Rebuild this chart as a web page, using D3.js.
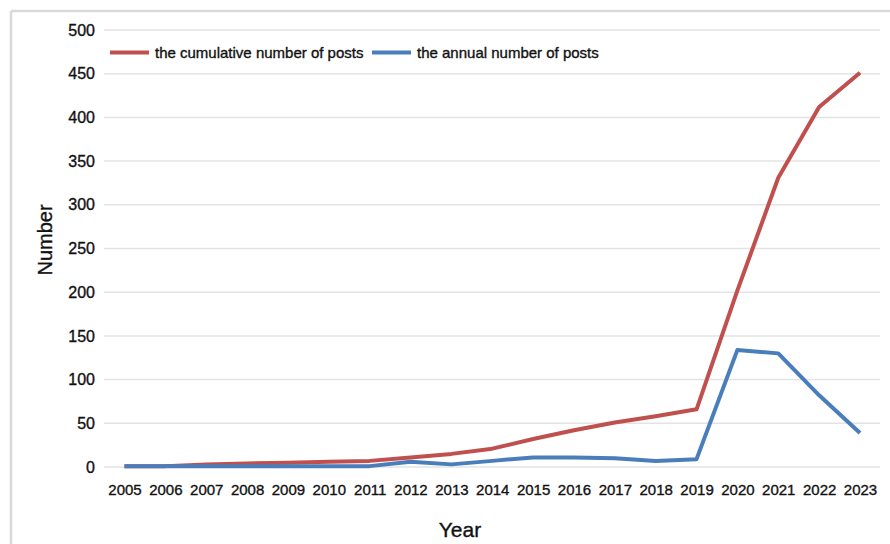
<!DOCTYPE html>
<html>
<head>
<meta charset="utf-8">
<script src="https://cdn.jsdelivr.net/npm/d3@7"></script>
<style>
  body { margin: 0; background: #fff; }
  svg { display: block; font-family: "Liberation Sans", Arial, sans-serif; }
  .lbl { stroke: #111; stroke-width: 0.35px; paint-order: stroke; }
</style>
</head>
<body>
<svg id="chart" width="890" height="544"></svg>
<script>
var years = ["2005", "2006", "2007", "2008", "2009", "2010", "2011", "2012", "2013", "2014",
             "2015", "2016", "2017", "2018", "2019", "2020", "2021", "2022", "2023"];
var cumulativePosts = [1, 1, 3, 4, 5, 6, 7, 11, 15, 21, 32, 42, 51, 58, 66, 202, 331, 412, 451];
var annualPosts = [1, 1, 1, 1, 1, 1, 1, 6, 3, 7, 11, 11, 10, 7, 9, 134, 130, 82, 39];
var yTicks = [0, 50, 100, 150, 200, 250, 300, 350, 400, 450, 500];

var redColor = "#c0504d";
var blueColor = "#4a7ebb";
var gridColor = "#e3e3e3";

var svg = d3.select("#chart");

// frame (top and left edges only)
svg.append("line").attr("x1", 11).attr("x2", 890).attr("y1", 11).attr("y2", 11)
    .attr("stroke", "#d9d9d9").attr("stroke-width", 2.5);
svg.append("line").attr("x1", 11).attr("x2", 11).attr("y1", 11).attr("y2", 544)
    .attr("stroke", "#d9d9d9").attr("stroke-width", 2.5);

var x = d3.scalePoint().domain(years).range([124.5, 860]);
var y = d3.scaleLinear().domain([0, 500]).range([467, 30]);

// gridlines
svg.append("g").selectAll("line").data(yTicks).enter().append("line")
    .attr("x1", 104).attr("x2", 880)
    .attr("y1", function(d) { return y(d); })
    .attr("y2", function(d) { return y(d); })
    .attr("stroke", gridColor).attr("stroke-width", 1.5);

// y axis labels
var yAxis = d3.axisLeft(y).tickValues(yTicks).tickSize(0).tickPadding(0);
svg.append("g").attr("transform", "translate(95,0)").call(yAxis)
    .call(function(g) { g.select(".domain").remove(); })
    .selectAll("text")
    .attr("class", "lbl")
    .attr("font-size", "16px").attr("fill", "#111").attr("font-family", null);

// x axis labels
var xAxis = d3.axisBottom(x).tickSize(0).tickPadding(0);
svg.append("g").attr("transform", "translate(0,484)").call(xAxis)
    .call(function(g) { g.select(".domain").remove(); })
    .selectAll("text")
    .attr("class", "lbl")
    .attr("font-size", "15px").attr("fill", "#111").attr("font-family", null)
    .attr("dy", "0.71em");

var line = d3.line()
    .x(function(d, i) { return x(years[i]); })
    .y(function(d) { return y(d); });

svg.append("path").datum(cumulativePosts)
    .attr("d", line).attr("fill", "none")
    .attr("stroke", redColor).attr("stroke-width", 4).attr("stroke-linejoin", "round");

svg.append("path").datum(annualPosts)
    .attr("d", line).attr("fill", "none")
    .attr("stroke", blueColor).attr("stroke-width", 4).attr("stroke-linejoin", "round");

// axis titles
svg.append("text")
    .attr("class", "lbl")
    .attr("transform", "translate(52,240) rotate(-90)")
    .attr("text-anchor", "middle")
    .attr("font-size", "20px").attr("fill", "#111")
    .text("Number");

svg.append("text")
    .attr("class", "lbl")
    .attr("x", 460).attr("y", 537)
    .attr("text-anchor", "middle")
    .attr("font-size", "21px").attr("fill", "#111")
    .text("Year");

// legend
var legendItems = [
    { label: "the cumulative number of posts", color: redColor, x: 110 },
    { label: "the annual number of posts", color: blueColor, x: 372 }
];
var legend = svg.append("g");
legendItems.forEach(function(item) {
    legend.append("line")
        .attr("x1", item.x).attr("x2", item.x + 39)
        .attr("y1", 52.5).attr("y2", 52.5)
        .attr("stroke", item.color).attr("stroke-width", 4);
    legend.append("text")
        .attr("class", "lbl")
        .attr("x", item.x + 45).attr("y", 57.5)
        .attr("font-size", "15px").attr("fill", "#111")
        .text(item.label);
});
</script>
</body>
</html>
